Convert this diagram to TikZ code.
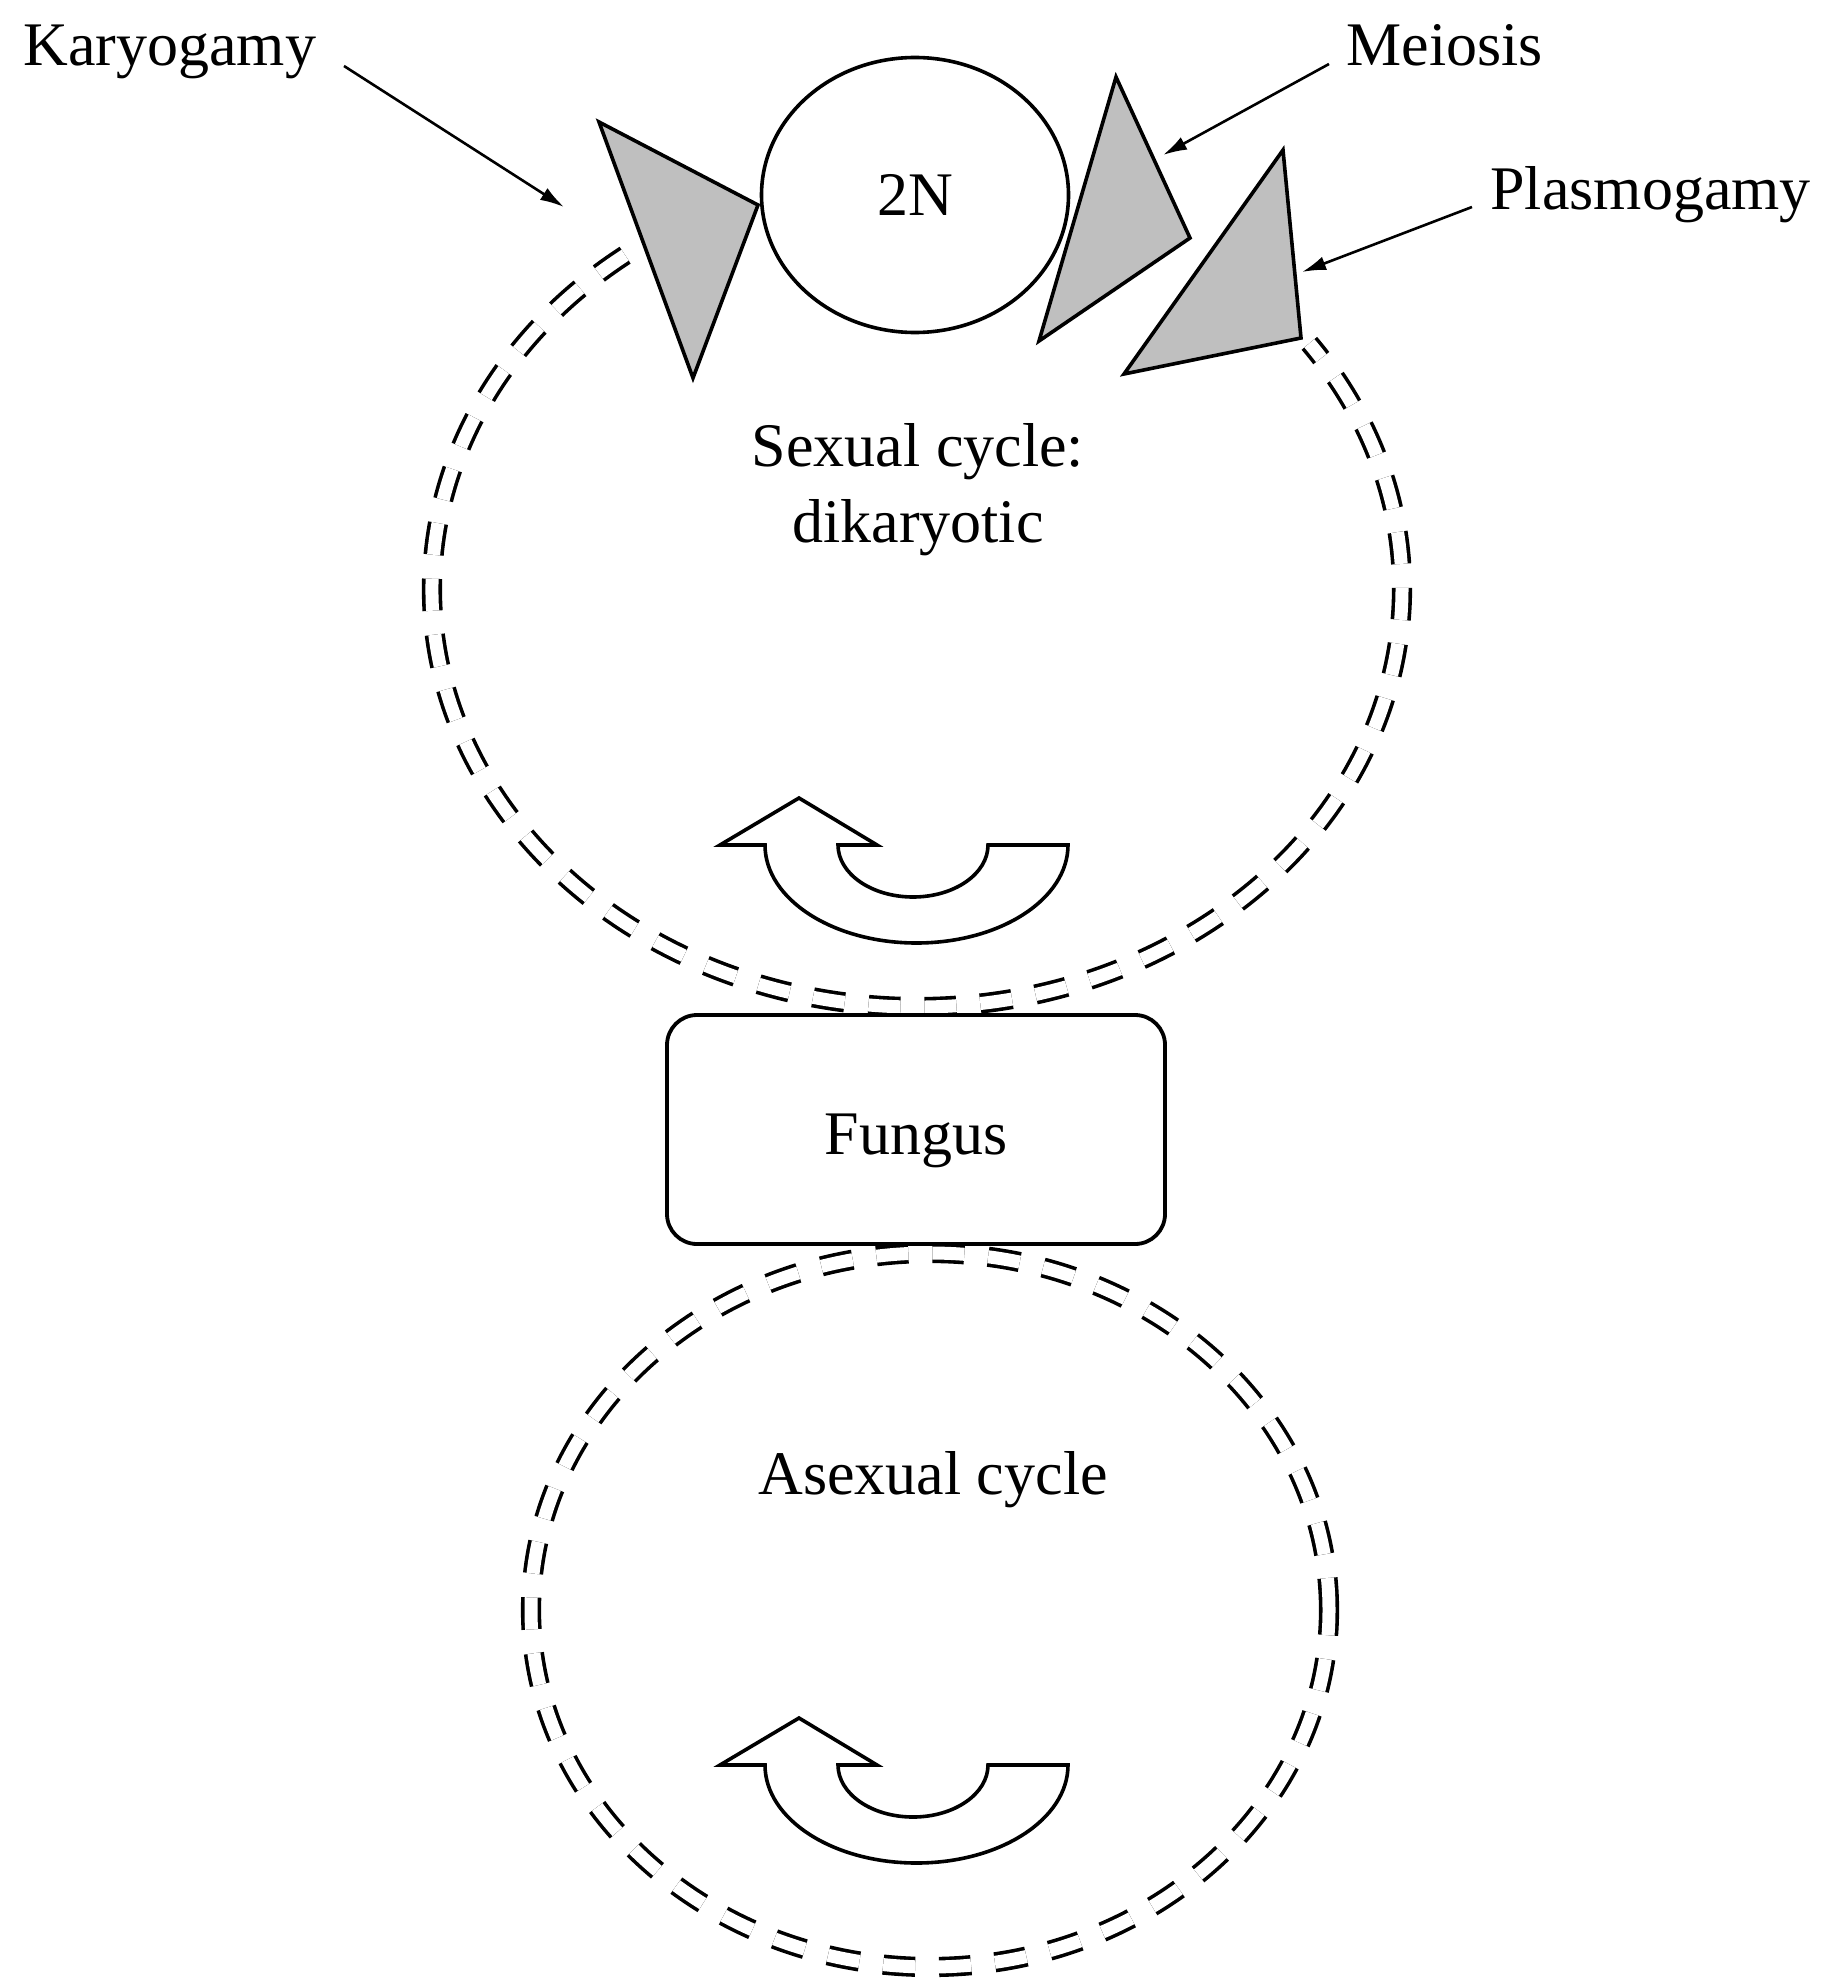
\documentclass[tikz,border=0pt]{standalone}
\usepackage{fontspec}
\setmainfont{Liberation Serif}
\usetikzlibrary{shapes.geometric,arrows.meta}
\tikzset{
  lbl/.style={font=\fontsize{31}{38}\selectfont, inner sep=0pt},
  ptr/.style={line width=1.3pt, -{Latex[length=12pt,width=7pt]}},
  tri/.style={draw, line width=1.8pt, fill=black!25, line join=miter},
  ring/.style={draw, line width=1.8pt, double=white, double distance=6.5pt, dash pattern=on 16pt off 12pt},
  uturn/.pic={
    \draw[line width=1.8pt, fill=white, line join=miter]
      (-148,0) -- (-193,0) -- (-114,-47) -- (-36,0) -- (-75,0)
      arc[start angle=180, end angle=360, x radius=37.5pt, y radius=26pt]
      -- (155,0)
      arc[start angle=0, end angle=-180, x radius=75.75pt, y radius=49pt] -- cycle;
  }
}
\begin{document}
\begin{tikzpicture}[x=0.5pt,y=-0.5pt]
\useasboundingbox (0,0) rectangle (1838,1985);
\fill[white] (0,0) rectangle (1838,1985);

% cycles
\draw[ring] (625.1,255.2) arc[start angle=127, end angle=396, x radius=242.5pt, y radius=209pt];
\draw[ring] (930,1610) ellipse [x radius=199.5pt, y radius=178.5pt];

% central organism
\node[draw, rounded corners=15pt, line width=1.9pt, fill=white, minimum width=249pt, minimum height=114.5pt, text height=25pt, text depth=0pt, lbl] (fungus) at (916,1129.5) {Fungus};

% 2N stage
\node[draw, ellipse, line width=1.8pt, minimum width=153.5pt, minimum height=137.5pt, lbl] (twoN) at (915,195) {2N};

% triangles
\draw[tri] (599,122) -- (758,205) -- (693,378) -- cycle;
\draw[tri] (1116,77) -- (1190,238) -- (1039,341) -- cycle;
\draw[tri] (1283,150) -- (1301,338) -- (1124,374) -- cycle;

% labels
\node[lbl, anchor=base west] (kary) at (23,66) {Karyogamy};
\node[lbl, anchor=base west] (meio) at (1346,66) {Meiosis};
\node[lbl, anchor=base west] (plas) at (1490,210) {Plasmogamy};
\node[lbl, anchor=north, align=center] (sexual) at (918,423) {Sexual cycle:\\dikaryotic};
\node[lbl, anchor=base] (asexual) at (933,1494) {Asexual cycle};

% pointer ends
\coordinate (karyS) at (344,66);
\coordinate (karyE) at (564,207);
\coordinate (meioS) at (1329,64);
\coordinate (meioE) at (1163,155);
\coordinate (plasS) at (1472,207);
\coordinate (plasE) at (1302,272);
\draw[ptr] (karyS) -- (karyE);
\draw[ptr] (meioS) -- (meioE);
\draw[ptr] (plasS) -- (plasE);

% rotation arrows
\pic at (913,845) {uturn};
\pic at (913,1765) {uturn};
\end{tikzpicture}
\end{document}
